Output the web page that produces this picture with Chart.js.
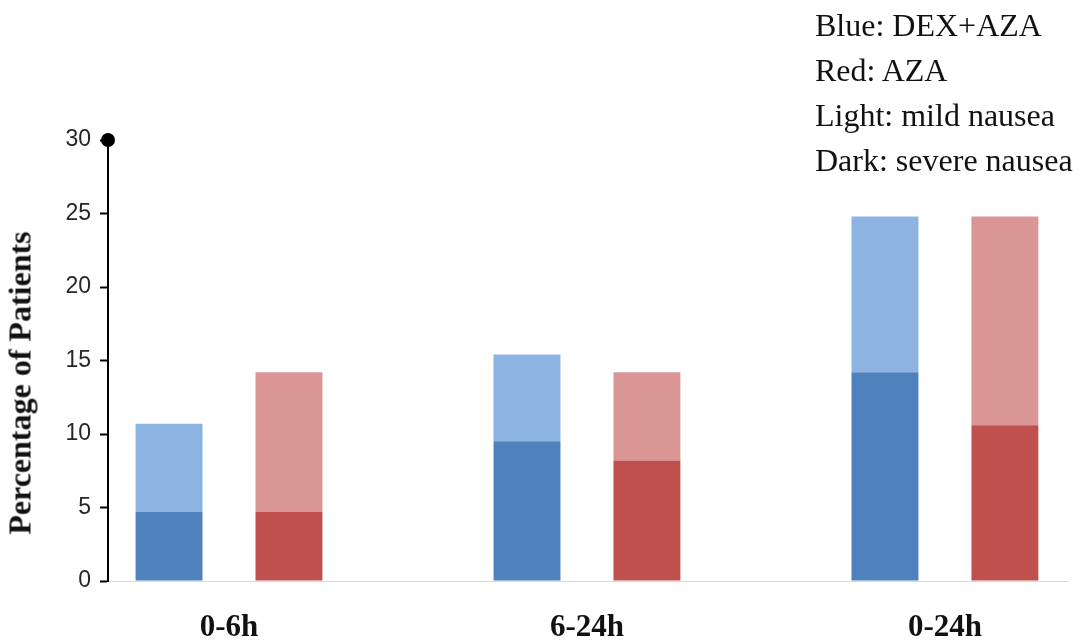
<!DOCTYPE html>
<html>
<head>
<meta charset="utf-8">
<script src="https://cdn.jsdelivr.net/npm/chart.js@4"></script>
<style>
  html, body { margin: 0; padding: 0; background: #fff; }
  #wrap { position: relative; width: 1084px; height: 642px; overflow: hidden; }
  #legend {
    position: absolute; left: 815px; top: 3px;
    font-family: "Liberation Serif", "Times New Roman", serif;
    font-size: 32px; line-height: 45px; color: #111;
    white-space: nowrap;
  }
  #ytitle {
    position: absolute; left: 20px; top: 383px;
    transform: translate(-50%, -50%) rotate(-90deg);
    font-family: "Liberation Serif", "Times New Roman", serif;
    font-weight: bold; font-size: 32px; color: #111;
    white-space: nowrap;
  }
</style>
</head>
<body>
<div id="wrap">
  <canvas id="chart"></canvas>
  <div id="legend">
    <div>Blue: DEX+AZA</div>
    <div>Red: AZA</div>
    <div>Light: mild nausea</div>
    <div>Dark: severe nausea</div>
  </div>
  <div id="ytitle">Percentage of Patients</div>
</div>
<script>
// time windows
const categories = ['0-6h', '6-24h', '0-24h'];

// % of patients, severe part sits at the bottom, mild stacked on top
const blueSevere = [4.7, 9.5, 14.2];
const blueMild   = [6.0, 5.9, 10.6];
const redSevere  = [4.7, 8.2, 10.6];
const redMild    = [9.5, 6.0, 14.2];

const yTicks = [0, 5, 10, 15, 20, 25, 30];

const X_MIN = -0.338, X_MAX = 2.341;

const pts = arr => arr.map((v, i) => ({ x: i, y: v }));

const barOpts = {
  categoryPercentage: 0.67,
  barPercentage: 0.558,
  borderWidth: 0
};

new Chart(document.getElementById('chart').getContext('2d'), {
  type: 'bar',
  data: {
    datasets: [
      { label: 'DEX+AZA severe', data: pts(blueSevere), stack: 'blue', backgroundColor: '#4F81BD', ...barOpts },
      { label: 'DEX+AZA mild',   data: pts(blueMild),   stack: 'blue', backgroundColor: '#8DB3E2', ...barOpts },
      { label: 'AZA severe',     data: pts(redSevere),  stack: 'red',  backgroundColor: '#C0504D', ...barOpts },
      { label: 'AZA mild',       data: pts(redMild),    stack: 'red',  backgroundColor: '#D99694', ...barOpts },
      // the round cap on top of the value axis
      {
        type: 'scatter', data: [{ x: X_MIN, y: yTicks[yTicks.length - 1] }],
        stack: 'cap', pointRadius: 7, pointBackgroundColor: '#000', pointBorderWidth: 0,
        clip: false
      }
    ]
  },
  options: {
    responsive: true,
    maintainAspectRatio: false,
    animation: false,
    layout: { padding: { top: 140, left: 0, right: 17, bottom: -32 } },
    plugins: { legend: { display: false }, tooltip: { enabled: false } },
    scales: {
      x: {
        type: 'linear',
        min: X_MIN, max: X_MAX,
        offset: false,
        grid: { display: false, drawTicks: false, offset: false },
        border: { color: '#d9d9d9', width: 1 },
        afterBuildTicks: s => { s.ticks = categories.map((_, i) => ({ value: i })); },
        ticks: {
          padding: 31,
          color: '#111',
          font: { family: 'Liberation Serif', weight: 'bold', size: 31, lineHeight: 1 },
          callback: v => categories[v]
        }
      },
      y: {
        stacked: true,
        min: 0, max: 30,
        afterFit: s => { s.width = 108; },
        afterBuildTicks: s => { s.ticks = yTicks.map(v => ({ value: v })); },
        grid: { drawOnChartArea: false, drawTicks: true, tickLength: 8, tickColor: '#000', tickWidth: 2 },
        border: { color: '#000', width: 2 },
        ticks: {
          padding: 9,
          color: '#262626',
          font: { family: 'Liberation Sans', size: 23 }
        }
      }
    }
  }
});
</script>
</body>
</html>
